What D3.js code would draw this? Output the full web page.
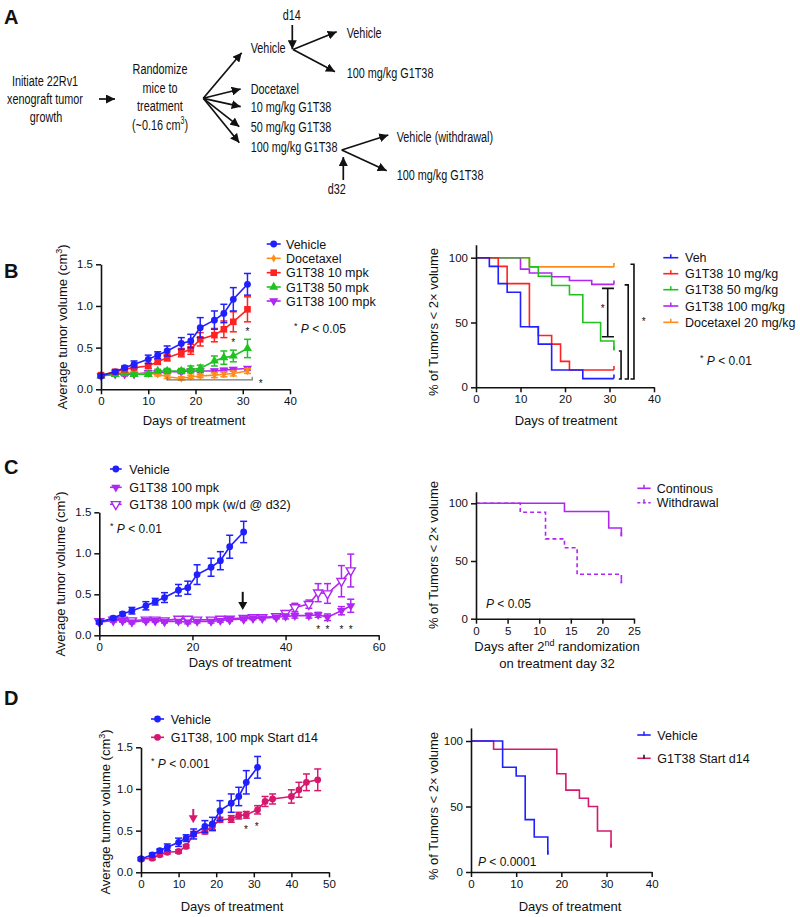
<!DOCTYPE html>
<html><head><meta charset="utf-8">
<script src="https://cdn.jsdelivr.net/npm/d3@7"></script>
<style>body{margin:0;background:#fff} text{font-family:"Liberation Sans",Arial,Helvetica,sans-serif;fill:#111}</style>
</head><body>
<svg id="c" width="800" height="917"></svg>
<script>
// ---------------- DATA ----------------
const daysB = [0,3,5,7,10,12,14,17,19,21,24,26,28,31];
const vehMean = [0.16,0.21,0.26,0.30,0.36,0.41,0.46,0.55,0.58,0.74,0.83,0.91,1.08,1.26];
const vehErr  = [0.02,0.02,0.02,0.04,0.05,0.04,0.06,0.07,0.08,0.12,0.11,0.11,0.14,0.13];
const docMean = [0.16,0.20,0.20,0.19,0.19,0.18,0.15,0.13,0.15,0.16,0.17,0.18,0.19,0.22];
const docErr  = [0.01,0.02,0.02,0.02,0.02,0.02,0.02,0.02,0.02,0.02,0.03,0.03,0.03,0.03];
const g10Mean = [0.17,0.21,0.24,0.26,0.28,0.33,0.38,0.44,0.48,0.60,0.65,0.72,0.81,0.96];
const g10Err  = [0.01,0.02,0.02,0.02,0.03,0.03,0.04,0.05,0.06,0.08,0.08,0.10,0.12,0.15];
const g50Mean = [0.16,0.18,0.19,0.18,0.18,0.22,0.22,0.22,0.24,0.25,0.34,0.38,0.40,0.49];
const g50Err  = [0.01,0.02,0.02,0.02,0.02,0.02,0.03,0.03,0.04,0.04,0.06,0.08,0.07,0.11];
const g100Mean= [0.16,0.18,0.18,0.18,0.20,0.20,0.21,0.21,0.22,0.22,0.22,0.23,0.24,0.25];
const g100Err = [0.01,0.02,0.02,0.02,0.02,0.02,0.02,0.02,0.02,0.02,0.02,0.02,0.02,0.02];

const kmVeh  = [[0,100],[3,93.3],[5,80],[7,73.3],[10,46.7],[14,33.3],[17,13.3],[24,6.7],[31,6.7]];
const km10   = [[0,100],[5,93.3],[7,80],[12,46.7],[14,40],[17,33.3],[19,20],[21,13.3],[31,13.3]];
const km50   = [[0,100],[12,92.9],[14,85.7],[17,78.6],[21,71.4],[24,50],[28,35.7],[31,28.6]];
const km100  = [[0,100],[10,91.2],[12,88.2],[17,85.3],[21,82.4],[26,79.4],[31,79.4]];
const kmDoc  = [[0,100],[12,92.9],[31,92.9]];

const daysC = [0,3,5,7,10,12,14,17,19,21,24,26,28,31,33,35,38,40,42,45,47,49,52,54];
const contMean = [0.16,0.18,0.18,0.16,0.18,0.18,0.17,0.17,0.16,0.17,0.17,0.18,0.19,0.20,0.21,0.21,0.22,0.23,0.24,0.24,0.25,0.22,0.30,0.36];
const contErr  = [0.02,0.02,0.02,0.02,0.02,0.02,0.02,0.02,0.02,0.02,0.02,0.02,0.02,0.02,0.02,0.02,0.02,0.03,0.03,0.03,0.03,0.04,0.05,0.08];
const wdMean   = [0.17,0.19,0.19,0.18,0.19,0.19,0.18,0.20,0.20,0.19,0.19,0.20,0.20,0.21,0.22,0.22,0.23,0.27,0.34,0.38,0.52,0.51,0.66,0.79];
const wdErr    = [0.02,0.02,0.02,0.02,0.02,0.02,0.02,0.02,0.02,0.02,0.02,0.02,0.02,0.02,0.02,0.02,0.02,0.03,0.05,0.05,0.11,0.12,0.19,0.20];
const kmCont = [[0,100],[14,92.9],[21,78.6],[23,71.4]];
const kmWd   = [[0,100],[7,92.3],[11,69.2],[14,61.5],[16,38.5],[23,30.8]];

const daysD = [0,3,5,7,10,12,14,17,19,21,24,26,28,31,33,35,40,42,44,47];
const g14Mean = [0.16,0.17,0.21,0.24,0.25,0.31,0.46,0.49,0.55,0.63,0.64,0.68,0.69,0.75,0.85,0.88,0.91,0.99,1.08,1.11];
const g14Err  = [0.01,0.02,0.02,0.02,0.02,0.02,0.03,0.03,0.04,0.03,0.04,0.04,0.04,0.05,0.06,0.06,0.08,0.09,0.10,0.13];
const kmVehD = [[0,100],[7,80],[10,73.3],[12,40],[14,26.7],[17,13.3]];
const kmG14  = [[0,100],[5,93.75],[19,75],[21,62.5],[24,56.25],[26,50],[28,31.25],[31,18.75]];

const volTicks = [0,0.5,1.0,1.5];
const pctTicks = [0,50,100];

// ---------------- STYLE ----------------
const BLUE="#1f1fff", RED="#ff2222", GREEN="#1fc21f", PURPLE="#b026f2", ORANGE="#ff8c1a", CRIMSON="#d6196e";
const svg = d3.select("#c");

// ---------------- helpers ----------------
function axes(g, x, y, xTicks, yTicks, yFmt) {
  const ax = g.append("g").attr("transform", `translate(0,${y.range()[0]})`)
    .call(d3.axisBottom(x).tickValues(xTicks).tickSize(5).tickSizeOuter(0).tickPadding(3));
  const ay = g.append("g").attr("transform", `translate(${x.range()[0]},0)`)
    .call(d3.axisLeft(y).tickValues(yTicks).tickFormat(yFmt).tickSize(5).tickSizeOuter(0).tickPadding(3));
  [ax, ay].forEach(a => {
    a.select(".domain").attr("stroke","#111").attr("stroke-width",1.6);
    a.selectAll(".tick line").attr("stroke","#111").attr("stroke-width",1.5);
    a.selectAll(".tick text").attr("font-size",11.5).attr("font-family","Liberation Sans, Arial, sans-serif").attr("fill","#222");
  });
}
function symPath(type, size) {
  return d3.symbol().type(type).size(size)();
}
function marker(g, cx, cy, m, color) {
  let p;
  if (m === "circle") p = g.append("circle").attr("r",3.4);
  else if (m === "square") p = g.append("path").attr("d", symPath(d3.symbolSquare, 44));
  else if (m === "tri") p = g.append("path").attr("d", symPath(d3.symbolTriangle, 36));
  else if (m === "triDown" || m === "triDownOpen") p = g.append("path").attr("d", symPath(d3.symbolTriangle, 36));
  else if (m === "diamond") p = g.append("path").attr("d", symPath(d3.symbolDiamond, 20));
  const rot = (m === "triDown" || m === "triDownOpen") ? " rotate(180)" : "";
  if (m === "circle") p.attr("cx", cx).attr("cy", cy);
  else p.attr("transform", `translate(${cx},${cy})${rot}`);
  if (m === "triDownOpen") p.attr("fill","#fff").attr("stroke",color).attr("stroke-width",1.4);
  else p.attr("fill", color);
}
function growthSeries(g, x, y, s) {
  const pts = s.days.map((d,i)=>({d, m:s.mean[i], e:s.err[i]}));
  const sg = g.append("g");
  sg.append("path").datum(pts).attr("fill","none").attr("stroke",s.color).attr("stroke-width",1.6)
    .attr("d", d3.line().x(p=>x(p.d)).y(p=>y(p.m)));
  pts.forEach(p => {
    const cx = x(p.d), yt = y(p.m+p.e), yb = y(p.m-p.e);
    sg.append("line").attr("x1",cx).attr("x2",cx).attr("y1",yt).attr("y2",yb).attr("stroke",s.color).attr("stroke-width",1.5);
    [yt,yb].forEach(yy => sg.append("line").attr("x1",cx-3.5).attr("x2",cx+3.5).attr("y1",yy).attr("y2",yy).attr("stroke",s.color).attr("stroke-width",1.5));
  });
  pts.forEach(p => marker(sg, x(p.d), y(p.m), s.marker, s.color));
}
function kmSeries(g, x, y, data, color, dash) {
  const p = g.append("path").datum(data).attr("fill","none").attr("stroke",color).attr("stroke-width",1.6)
    .attr("d", d3.line().curve(d3.curveStepAfter).x(d=>x(d[0])).y(d=>y(d[1])));
  if (dash) p.attr("stroke-dasharray", dash);
  const last = data[data.length-1];
  g.append("line").attr("x1",x(last[0])).attr("x2",x(last[0])).attr("y1",y(last[1])).attr("y2",y(last[1])-4)
    .attr("stroke",color).attr("stroke-width",1.6);
}
function legendGrowth(g, x0, x1, tx, ys, items) {
  items.forEach((it,i) => {
    g.append("line").attr("x1",x0).attr("x2",x1).attr("y1",ys[i]).attr("y2",ys[i]).attr("stroke",it.color).attr("stroke-width",1.6);
    marker(g, (x0+x1)/2, ys[i], it.marker, it.color);
    g.append("text").attr("x",tx).attr("y",ys[i]).attr("dy","0.36em").attr("font-size",12.5).text(it.label);
  });
}
function legendKM(g, x0, x1, tx, ys, items) {
  items.forEach((it,i) => {
    const l = g.append("line").attr("x1",x0).attr("x2",x1).attr("y1",ys[i]).attr("y2",ys[i]).attr("stroke",it.color).attr("stroke-width",1.6);
    if (it.dash) l.attr("stroke-dasharray", it.dash);
    const mx = (x0+x1)/2;
    g.append("line").attr("x1",mx).attr("x2",mx).attr("y1",ys[i]-3.5).attr("y2",ys[i]+0.5).attr("stroke",it.tick||it.color).attr("stroke-width",1.5);
    g.append("text").attr("x",tx).attr("y",ys[i]).attr("dy","0.36em").attr("font-size",12.5).text(it.label);
  });
}
function yLabelVol(g, cx, cy) {
  const t = g.append("text").attr("transform",`translate(${cx},${cy}) rotate(-90)`).attr("text-anchor","middle").attr("font-size",13);
  t.append("tspan").text("Average tumor volume (cm");
  t.append("tspan").attr("font-size",9).attr("dy",-5).text("3");
  t.append("tspan").attr("dy",5).text(")");
}
function yLabelPct(g, cx, cy) {
  g.append("text").attr("transform",`translate(${cx},${cy}) rotate(-90)`).attr("text-anchor","middle").attr("font-size",13)
    .text("% of Tumors < 2× volume");
}
function xLabel(g, cx, cy, txt) {
  g.append("text").attr("x",cx).attr("y",cy).attr("text-anchor","middle").attr("font-size",13).text(txt);
}
function pText(g, x, y, star, txt) {
  const t = g.append("text").attr("x",x).attr("y",y).attr("font-size",12);
  if (star) { t.append("tspan").attr("font-size",9).attr("dy",-4).text("*"); t.append("tspan").attr("dy",4).text(" "); }
  t.append("tspan").attr("font-style","italic").text("P");
  t.append("tspan").text(" < " + txt);
}
function star(g, x, y) {
  g.append("text").attr("x",x).attr("y",y).attr("text-anchor","middle").attr("font-size",10).attr("dy","0.55em").text("*");
}
function downArrow(g, x, yTop, yBot, color) {
  g.append("line").attr("x1",x).attr("x2",x).attr("y1",yTop).attr("y2",yBot-6).attr("stroke",color).attr("stroke-width",2);
  g.append("path").attr("d",`M${x-4.5},${yBot-8} L${x+4.5},${yBot-8} L${x},${yBot} Z`).attr("fill",color);
}

// ---------------- panel letters ----------------
[["A",4,24],["B",4,278],["C",4,474],["D",4,705]].forEach(([l,x,y]) =>
  svg.append("text").attr("x",x).attr("y",y).attr("font-size",20).attr("font-weight","bold").text(l));

// ---------------- Panel A (flow diagram) ----------------
const gA = svg.append("g");
gA.append("defs").append("marker").attr("id","ah").attr("viewBox","0 0 10 10").attr("refX",10).attr("refY",5)
  .attr("markerWidth",9).attr("markerHeight",9).attr("markerUnits","userSpaceOnUse").attr("orient","auto")
  .append("path").attr("d","M0,0 L10,5 L0,10 Z").attr("fill","#111");
function cText(x, y, str, anchor, sup) {
  const t = gA.append("text").attr("transform",`translate(${x},${y}) scale(0.7,1)`).attr("font-size",15.5)
    .attr("text-anchor", anchor||"start");
  t.append("tspan").text(str);
  if (sup) { t.append("tspan").attr("font-size",10).attr("dy",-6).text(sup[0]); t.append("tspan").attr("dy",6).text(sup[1]); }
}
function arrow(x1,y1,x2,y2) {
  gA.append("line").attr("x1",x1).attr("y1",y1).attr("x2",x2).attr("y2",y2).attr("stroke","#111").attr("stroke-width",1.7).attr("marker-end","url(#ah)");
}
cText(45,86,"Initiate 22Rv1","middle");
cText(45,104,"xenograft tumor","middle");
cText(46,122,"growth","middle");
arrow(99,99,115,99);
cText(160,74,"Randomize","middle");
cText(160,92.5,"mice to","middle");
cText(160,111,"treatment","middle");
cText(160,130,"(~0.16 cm","middle",["3",")"]);
[[241.7,52.7],[240.7,89],[240.7,106.7],[239.3,126.7],[239.3,142.7]].forEach(([x,y]) => arrow(203.3,98.3,x,y));
cText(250.7,53.3,"Vehicle");
cText(250.7,94,"Docetaxel");
cText(250.7,112.3,"10 mg/kg G1T38");
cText(250.7,132,"50 mg/kg G1T38");
cText(250.7,152,"100 mg/kg G1T38");
cText(291.7,20,"d14","middle");
arrow(292.3,25,292.3,49.3);
arrow(293,49.5,336.7,31.7);
arrow(293,49.5,335,71.7);
cText(346.7,37.7,"Vehicle");
cText(346.7,78,"100 mg/kg G1T38");
arrow(341.7,150,388.3,135);
arrow(341.7,150,386.7,170.7);
cText(396.7,141.5,"Vehicle (withdrawal)");
cText(396.7,180,"100 mg/kg G1T38");
arrow(343.3,180,343.3,157);
cText(336.7,194,"d32","middle");

// ---------------- Panel B left ----------------
{
  const g = svg.append("g");
  const x = d3.scaleLinear().domain([0,40]).range([101,290]);
  const y = d3.scaleLinear().domain([0,1.5]).range([389.3,264.3]);
  const series = [
    {label:"G1T38 100 mpk", days:daysB, mean:g100Mean, err:g100Err, color:PURPLE, marker:"triDown"},
    {label:"Docetaxel", days:daysB, mean:docMean, err:docErr, color:ORANGE, marker:"diamond"},
    {label:"G1T38 50 mpk", days:daysB, mean:g50Mean, err:g50Err, color:GREEN, marker:"tri"},
    {label:"G1T38 10 mpk", days:daysB, mean:g10Mean, err:g10Err, color:RED, marker:"square"},
    {label:"Vehicle", days:daysB, mean:vehMean, err:vehErr, color:BLUE, marker:"circle"}
  ];
  series.forEach(s => growthSeries(g, x, y, s));
  axes(g, x, y, [0,10,20,30,40], volTicks, d3.format(".1f"));
  g.append("path").attr("d",`M${x(14)},${y(0.15)} V${y(0.112)} H${x(32)} V${y(0.15)}`).attr("fill","none").attr("stroke","#777").attr("stroke-width",1.2);
  star(g, x(33.8), y(0.09));
  star(g, x(28), y(0.59));
  star(g, x(31), y(0.72));
  legendGrowth(g, 266.7, 280.7, 286, [244,258.3,272.7,287,301], [series[4],series[1],series[3],series[2],series[0]]);
  pText(g, 294, 332.5, true, "0.05");
  yLabelVol(g, 67, 327);
  xLabel(g, 194, 425, "Days of treatment");
}
// ---------------- Panel B right ----------------
{
  const g = svg.append("g");
  const x = d3.scaleLinear().domain([0,40]).range([476,654]);
  const y = d3.scaleLinear().domain([0,110]).range([387.3,387.3-129.6*1.1]);
  kmSeries(g, x, y, kmDoc, ORANGE);
  kmSeries(g, x, y, km100, PURPLE);
  kmSeries(g, x, y, km50, GREEN);
  kmSeries(g, x, y, km10, RED);
  kmSeries(g, x, y, kmVeh, BLUE);
  axes(g, x, y, [0,10,20,30,40], pctTicks, d3.format("d"));
  const k = "#111";
  g.append("path").attr("d",`M${x(28.3)},${y(76.3)} H${x(31)} M${x(29.6)},${y(76.3)} V${y(39)} M${x(28.3)},${y(39)} H${x(31)}`).attr("fill","none").attr("stroke",k).attr("stroke-width",1.6);
  star(g, x(28.5), y(62));
  [[32.1,32.6,28],[33.4,34.2,79],[34.7,35.5,95]].forEach(([a,b,top]) =>
    g.append("path").attr("d",`M${x(a)},${y(top)} H${x(b)} V${y(6.4)} H${x(a)}`).attr("fill","none").attr("stroke",k).attr("stroke-width",1.6));
  star(g, x(37.7), y(52));
  legendKM(g, 663.3, 678.3, 685, [257.7,273.7,289.7,306,322.3], [
    {label:"Veh", color:BLUE},{label:"G1T38 10 mg/kg", color:RED},{label:"G1T38 50 mg/kg", color:GREEN},
    {label:"G1T38 100 mg/kg", color:PURPLE},{label:"Docetaxel 20 mg/kg", color:ORANGE}]);
  pText(g, 700, 364.5, true, "0.01");
  yLabelPct(g, 438, 322);
  xLabel(g, 566, 425, "Days of treatment");
}
// ---------------- Panel C left ----------------
{
  const g = svg.append("g");
  const x = d3.scaleLinear().domain([0,60]).range([99.3,378.7]);
  const y = d3.scaleLinear().domain([0,1.5]).range([635.3,512.3]);
  const sCont = {label:"G1T38 100 mpk", days:daysC, mean:contMean, err:contErr, color:PURPLE, marker:"triDown"};
  const sWd = {label:"G1T38 100 mpk (w/d @ d32)", days:daysC, mean:wdMean, err:wdErr, color:PURPLE, marker:"triDownOpen"};
  const sVeh = {label:"Vehicle", days:daysB, mean:vehMean, err:vehErr, color:BLUE, marker:"circle"};
  growthSeries(g, x, y, sWd);
  growthSeries(g, x, y, sCont);
  growthSeries(g, x, y, sVeh);
  axes(g, x, y, [0,20,40,60], volTicks, d3.format(".1f"));
  downArrow(g, x(30.8), y(0.53), y(0.31), "#111");
  [47,49,52,54].forEach(d => star(g, x(d), y(0.1)));
  legendGrowth(g, 110, 121.7, 129.3, [469,487.3,504.3], [sVeh, sCont, sWd]);
  pText(g, 110, 533, true, "0.01");
  yLabelVol(g, 65, 574);
  xLabel(g, 240, 667, "Days of treatment");
}
// ---------------- Panel C right ----------------
{
  const g = svg.append("g");
  const x = d3.scaleLinear().domain([0,25]).range([476,634]);
  const y = d3.scaleLinear().domain([0,110]).range([618.7,618.7-115.4*1.1]);
  kmSeries(g, x, y, kmWd, PURPLE, "4,3");
  kmSeries(g, x, y, kmCont, PURPLE);
  axes(g, x, y, [0,5,10,15,20,25], pctTicks, d3.format("d"));
  legendKM(g, 637.3, 650.7, 656.7, [488.3,502.7], [{label:"Continous", color:PURPLE},{label:"Withdrawal", color:PURPLE, dash:"3,2.5"}]);
  pText(g, 486, 607.5, false, "0.05");
  yLabelPct(g, 438, 555);
  const t = g.append("text").attr("x",557).attr("y",651).attr("text-anchor","middle").attr("font-size",13);
  t.append("tspan").text("Days after 2");
  t.append("tspan").attr("font-size",9).attr("dy",-5).text("nd");
  t.append("tspan").attr("dy",5).text(" randomization");
  xLabel(g, 557, 668, "on treatment day 32");
}
// ---------------- Panel D left ----------------
{
  const g = svg.append("g");
  const x = d3.scaleLinear().domain([0,50]).range([141,329]);
  const y = d3.scaleLinear().domain([0,1.5]).range([872.3,747.3]);
  const sG = {label:"G1T38, 100 mpk Start d14", days:daysD, mean:g14Mean, err:g14Err, color:CRIMSON, marker:"circle"};
  const sV = {label:"Vehicle", days:daysB, mean:vehMean, err:vehErr, color:BLUE, marker:"circle"};
  growthSeries(g, x, y, sG);
  growthSeries(g, x, y, sV);
  axes(g, x, y, [0,10,20,30,40,50], volTicks, d3.format(".1f"));
  downArrow(g, x(13.9), y(0.76), y(0.59), CRIMSON);
  star(g, x(27.9), y(0.54));
  star(g, x(30.8), y(0.57));
  legendGrowth(g, 151, 164, 170.7, [719,737.3], [sV, sG]);
  pText(g, 151, 768, true, "0.001");
  yLabelVol(g, 110, 812);
  xLabel(g, 232, 911, "Days of treatment");
}
// ---------------- Panel D right ----------------
{
  const g = svg.append("g");
  const x = d3.scaleLinear().domain([0,40]).range([471,651.7]);
  const y = d3.scaleLinear().domain([0,110]).range([872,872-131*1.1]);
  kmSeries(g, x, y, kmG14, CRIMSON);
  kmSeries(g, x, y, kmVehD, BLUE);
  axes(g, x, y, [0,10,20,30,40], pctTicks, d3.format("d"));
  legendKM(g, 637.3, 650.7, 657.3, [735,758.3], [{label:"Vehicle", color:BLUE},{label:"G1T38 Start d14", color:CRIMSON, tick:"#111"}]);
  pText(g, 478, 866, false, "0.0001");
  yLabelPct(g, 438, 806);
  xLabel(g, 570, 911, "Days of treatment");
}
</script>
</body></html>
